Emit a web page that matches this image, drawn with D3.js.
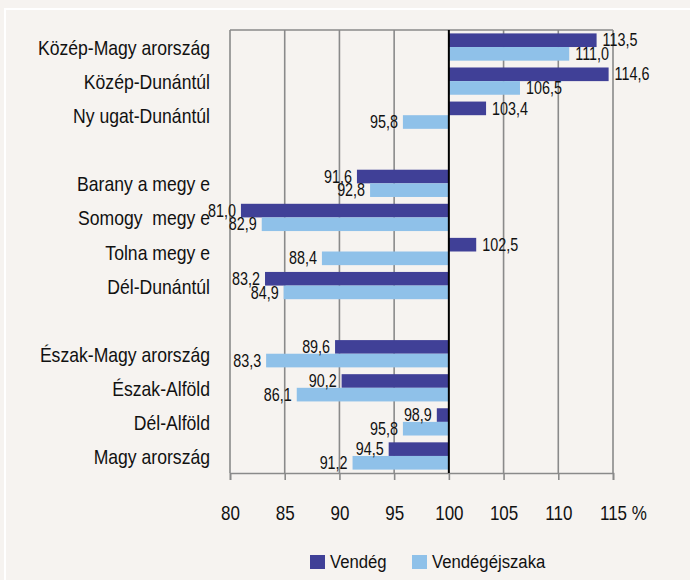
<!DOCTYPE html>
<html>
<head>
<meta charset="utf-8">
<title>Vendég, vendégéjszaka</title>
<script src="https://d3js.org/d3.v7.min.js"></script>
<style>
    html, body { margin: 0; padding: 0; background: #f6f3f0; }
    text { font-family: "Liberation Sans Narrow", "Arial Narrow", "Liberation Sans", Arial, sans-serif; fill: #111; white-space: pre; }
    .cat { font-size: 20px; }
    .val { font-size: 17.5px; }
    .tick text { font-size: 20px; }
    .legend text { font-size: 19px; }
</style>
</head>
<body>
<div id="chart"></div>
<script>
// régiók, "" = üres sor a csoportok között
const categories = ["Közép-Magy arország", "Közép-Dunántúl", "Ny ugat-Dunántúl", "",
    "Barany a megy e", "Somogy  megy e", "Tolna megy e", "Dél-Dunántúl", "",
    "Észak-Magy arország", "Észak-Alföld", "Dél-Alföld", "Magy arország"];
const vendeg =   [113.5, 114.6, 103.4, null, 91.6, 81.0, 102.5, 83.2, null, 89.6, 90.2, 98.9, 94.5];
const ejszaka =  [111.0, 106.5, 95.8, null, 92.8, 82.9, 88.4, 84.9, null, 83.3, 86.1, 95.8, 91.2];
const ticks = [80, 85, 90, 95, 100, 105, 110, 115];
const seriesNames = ["Vendég", "Vendégéjszaka"];
const colors = ["#404097", "#8fc1e9"];

const width = 690, height = 580;
const plot = { left: 230, right: 613, top: 30, bottom: 473 };

// keskenyített betűk (nincs Arial Narrow)
function squeeze(sel, sx) {
    sel.each(function () {
        const t = d3.select(this);
        const tx = +t.attr("x") || 0, ty = +t.attr("y") || 0;
        t.attr("x", 0).attr("y", 0)
            .attr("transform", `translate(${tx},${ty}) scale(${sx},1)`);
    });
}

const svg = d3.select("#chart").append("svg")
    .attr("width", width).attr("height", height);

svg.append("rect").attr("width", width).attr("height", height).attr("fill", "#f6f3f0");
// fehér keret
svg.append("rect").attr("x", 5).attr("y", 9).attr("width", width + 20).attr("height", height + 20)
    .attr("fill", "none").attr("stroke", "#ffffff").attr("stroke-width", 2);

const x = d3.scaleLinear().domain([80, 115]).range([plot.left, plot.right]);
const y = d3.scaleBand().domain(d3.range(categories.length))
    .range([plot.top, plot.bottom]).paddingInner(0.2).paddingOuter(0.1);
const sub = d3.scaleBand().domain([0, 1]).range([0, y.bandwidth()]);

// rácsvonalak
svg.append("g").selectAll("line").data(ticks.filter(t => t !== 100)).join("line")
    .attr("x1", d => x(d)).attr("x2", d => x(d))
    .attr("y1", plot.top).attr("y2", plot.bottom)
    .attr("stroke", "#8a8a8a").attr("stroke-width", 1.6);
svg.append("line").attr("x1", plot.left).attr("x2", plot.right)
    .attr("y1", plot.top).attr("y2", plot.top)
    .attr("stroke", "#8a8a8a").attr("stroke-width", 1.6);

// tengely
const axis = svg.append("g").attr("transform", `translate(0,${plot.bottom})`)
    .call(d3.axisBottom(x).tickValues(ticks).tickSize(7).tickPadding(26).tickFormat(d3.format("d")));
axis.select(".domain").attr("stroke", "#8a8a8a").attr("stroke-width", 1.6);
axis.selectAll(".tick line").attr("stroke", "#8a8a8a").attr("stroke-width", 1.6);
axis.selectAll(".tick text").attr("fill", "#111").attr("font-family", null).attr("font-size", null);
axis.selectAll(".tick text").filter(d => d === 115).each(function () {
    const t = d3.select(this);
    const w = this.getComputedTextLength();
    t.attr("text-anchor", "start").attr("x", -w / 2);
    t.append("tspan").text(" %");
});
axis.selectAll(".tick text").attr("transform", "scale(0.85,1)");

// oszlopok
const rows = categories.map((c, i) => ({ i, c, vals: [vendeg[i], ejszaka[i]] })).filter(r => r.c !== "");
const fmt = v => d3.format(".1f")(v).replace(".", ",");

rows.forEach(r => {
    r.vals.forEach((v, s) => {
        const yy = y(r.i) + sub(s);
        svg.append("rect")
            .attr("x", x(Math.min(v, 100)))
            .attr("y", yy)
            .attr("width", Math.abs(x(v) - x(100)))
            .attr("height", sub.bandwidth())
            .attr("fill", colors[s]);
    });
});

// 100-as vonal
svg.append("line").attr("x1", x(100)).attr("x2", x(100))
    .attr("y1", plot.top).attr("y2", plot.bottom)
    .attr("stroke", "#000").attr("stroke-width", 2);

// értékcímkék
rows.forEach(r => {
    r.vals.forEach((v, s) => {
        const yc = y(r.i) + sub(s) + sub.bandwidth() / 2;
        svg.append("text").attr("class", "val")
            .attr("x", v >= 100 ? x(v) + 6 : x(v) - 5)
            .attr("y", yc).attr("dy", "0.35em")
            .attr("text-anchor", v >= 100 ? "start" : "end")
            .text(fmt(v))
            .call(squeeze, 0.82);
    });
});

// kategória címkék
svg.append("g").selectAll("text").data(rows).join("text")
    .attr("class", "cat")
    .attr("x", 210)
    .attr("y", d => y(d.i) + y.bandwidth() / 2 + 1)
    .attr("dy", "0.35em")
    .attr("text-anchor", "end")
    .text(d => d.c)
    .call(squeeze, 0.88);

// jelmagyarázat
const legend = svg.append("g").attr("class", "legend");
const legX = [310, 412];
seriesNames.forEach((name, i) => {
    legend.append("rect").attr("x", legX[i]).attr("y", 555).attr("width", 15).attr("height", 14)
        .attr("fill", colors[i]);
    legend.append("text").attr("x", legX[i] + 20).attr("y", 568).text(name)
        .call(squeeze, 0.88);
});
</script>
</body>
</html>
